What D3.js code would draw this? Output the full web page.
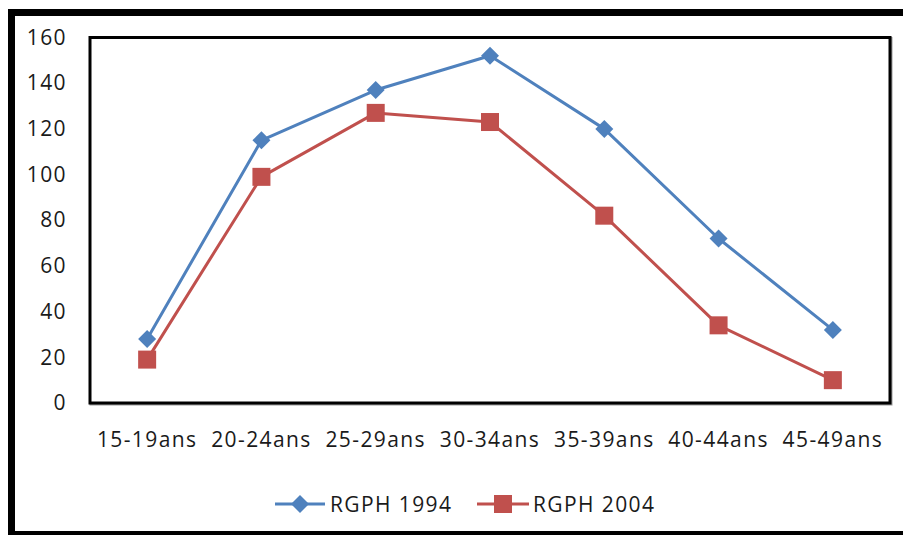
<!DOCTYPE html>
<html>
<head>
<meta charset="utf-8">
<script src="https://cdn.jsdelivr.net/npm/d3@7"></script>
<style>
  html, body { margin: 0; padding: 0; background: #fff; }
  svg { display: block; }
  text { font-family: "Open Sans", "Noto Sans", sans-serif; fill: #1a1a1a; }
</style>
</head>
<body>
<svg id="chart" width="903" height="535"></svg>
<script>
const categories = ["15-19ans", "20-24ans", "25-29ans", "30-34ans", "35-39ans", "40-44ans", "45-49ans"];
const rgph1994 = [28, 115, 137, 152, 120, 72, 32];
const rgph2004 = [19, 99, 127, 123, 82, 34, 10];
const yTicks = [0, 20, 40, 60, 80, 100, 120, 140, 160];
const seriesNames = ["RGPH 1994", "RGPH 2004"];

const svg = d3.select("#chart");
const W = 903, H = 535;
const plot = { left: 90, top: 37.5, right: 890, bottom: 403 };
const FS = "21px", LS = "1.4px";

svg.append("rect").attr("width", W).attr("height", H).attr("fill", "#fff");
// outer frame
svg.append("rect").attr("x", 11.5).attr("y", 12.5).attr("width", 1000).attr("height", 522)
  .attr("fill", "none").attr("stroke", "#000").attr("stroke-width", 7);

const x = d3.scaleBand().domain(categories).range([plot.left, plot.right]);
const y = d3.scaleLinear().domain([0, 160]).range([plot.bottom, plot.top]);

// plot frame with slight shadow
svg.append("rect").attr("x", plot.left + 1).attr("y", plot.top + 1)
  .attr("width", plot.right - plot.left).attr("height", plot.bottom - plot.top)
  .attr("fill", "none").attr("stroke", "#999").attr("stroke-width", 3);
svg.append("rect").attr("x", plot.left).attr("y", plot.top)
  .attr("width", plot.right - plot.left).attr("height", plot.bottom - plot.top)
  .attr("fill", "#fff").attr("stroke", "#000").attr("stroke-width", 3);

// y axis labels
const yAxis = d3.axisLeft(y).tickValues(yTicks).tickSize(0).tickPadding(0);
const gy = svg.append("g").attr("transform", `translate(67,0)`).call(yAxis);
gy.select(".domain").remove();
gy.selectAll("text").style("font-size", FS).style("letter-spacing", LS).attr("fill", "#1a1a1a")
  .style("font-family", '"Open Sans", sans-serif');

// x axis labels
const xAxis = d3.axisBottom(x).tickSize(0).tickPadding(0);
const gx = svg.append("g").attr("transform", `translate(0,432)`).call(xAxis);
gx.select(".domain").remove();
gx.selectAll("text").style("font-size", FS).style("letter-spacing", LS).attr("fill", "#1a1a1a")
  .style("font-family", '"Open Sans", sans-serif');

const colors = ["#4F81BD", "#C0504D"];
const data = [rgph1994, rgph2004];
const line = d3.line().x((d, i) => x(categories[i]) + x.bandwidth() / 2).y(d => y(d));

data.forEach((vals, si) => {
  svg.append("path").datum(vals).attr("d", line).attr("fill", "none")
    .attr("stroke", colors[si]).attr("stroke-width", 3).attr("stroke-linejoin", "round");
});

function marker(g, si, cx, cy) {
  if (si === 0) {
    g.append("path").attr("d", `M${cx},${cy - 9}L${cx + 9},${cy}L${cx},${cy + 9}L${cx - 9},${cy}Z`)
      .attr("fill", colors[0]);
  } else {
    g.append("rect").attr("x", cx - 9).attr("y", cy - 9).attr("width", 18).attr("height", 18)
      .attr("fill", colors[1]);
  }
}

data.forEach((vals, si) => {
  const g = svg.append("g");
  vals.forEach((v, i) => marker(g, si, x(categories[i]) + x.bandwidth() / 2, y(v)));
});

// legend
const legend = [{ x1: 275, x2: 325, tx: 330 }, { x1: 477, x2: 529, tx: 533 }];
legend.forEach((l, si) => {
  const ly = 504;
  svg.append("line").attr("x1", l.x1).attr("x2", l.x2).attr("y1", ly).attr("y2", ly)
    .attr("stroke", colors[si]).attr("stroke-width", 3);
  marker(svg, si, (l.x1 + l.x2) / 2, ly);
  svg.append("text").attr("x", l.tx).attr("y", ly).attr("dy", "0.36em")
    .style("font-size", FS).style("letter-spacing", LS).text(seriesNames[si]);
});
</script>
</body>
</html>
